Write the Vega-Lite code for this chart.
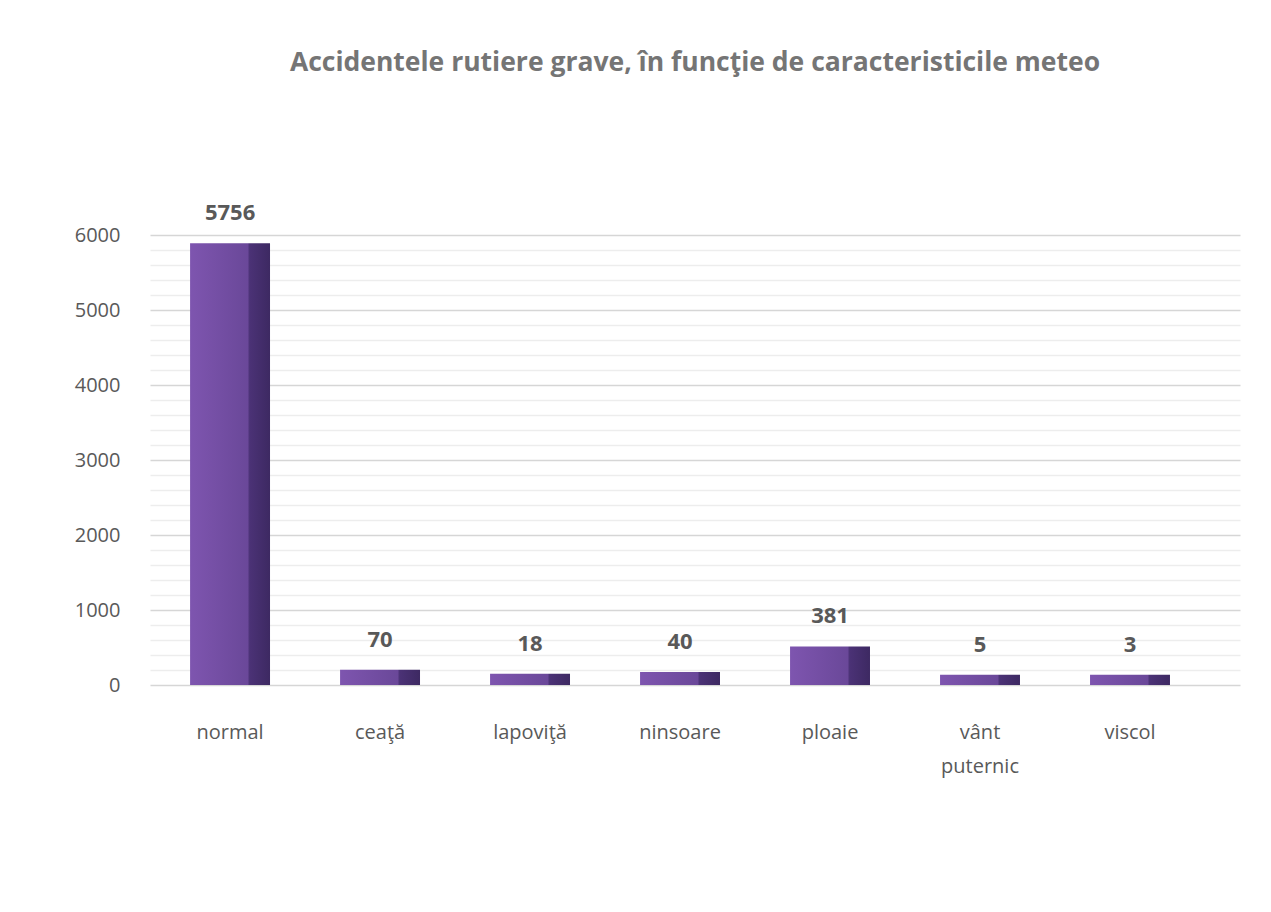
{
  "$schema": "https://vega.github.io/schema/vega-lite/v6.json",
  "autosize": "none",
  "width": 1090,
  "height": 450,
  "padding": {"left": 150, "top": 235, "right": 31, "bottom": 227},
  "background": "white",
  "title": {
    "text": "Accidentele rutiere grave, în funcţie de caracteristicile meteo",
    "font": "Open Sans",
    "fontSize": 26.5,
    "fontWeight": "bold",
    "color": "#757575",
    "anchor": "middle",
    "offset": 126
  },
  "data": {
    "values": [
      {"cond": "normal", "n": 5756},
      {"cond": "ceaţă", "n": 70},
      {"cond": "lapoviţă", "n": 18},
      {"cond": "ninsoare", "n": 40},
      {"cond": "ploaie", "n": 381},
      {"cond": "vânt puternic", "n": 5},
      {"cond": "viscol", "n": 3}
    ]
  },
  "config": {
    "view": {"stroke": null},
    "font": "Open Sans"
  },
  "encoding": {
    "x": {
      "field": "cond",
      "type": "nominal",
      "sort": null,
      "scale": {"paddingInner": 0.467, "paddingOuter": 0.367, "align": 0.364},
      "axis": {
        "title": null,
        "labelAngle": 0,
        "domain": false,
        "ticks": false,
        "labelPadding": 37,
        "labelFontSize": 20,
        "labelColor": "#595959",
        "labelFont": "Open Sans",
        "labelLineHeight": 34,
        "labelExpr": "datum.label == 'vânt puternic' ? ['vânt', 'puternic'] : datum.label"
      }
    },
    "y": {
      "field": "n",
      "type": "quantitative",
      "stack": null,
      "scale": {"domain": [0, 6000], "nice": false},
      "axis": {
        "title": null,
        "values": [0,200,400,600,800,1000,1200,1400,1600,1800,2000,2200,2400,2600,2800,3000,3200,3400,3600,3800,4000,4200,4400,4600,4800,5000,5200,5400,5600,5800,6000],
        "labelExpr": "datum.value % 1000 == 0 ? datum.label : ''",
        "format": "d",
        "domain": false,
        "ticks": false,
        "labelPadding": 30,
        "labelFontSize": 20,
        "labelColor": "#595959",
        "labelFont": "Open Sans",
        "gridColor": {"condition": {"test": "datum.value % 1000 == 0", "value": "#D6D6D6"}, "value": "#EDEDED"},
        "gridWidth": 1.5
      }
    }
  },
  "layer": [
    {
      "mark": {
        "type": "bar",
        "yOffset": -10,
        "y2Offset": 0,
        "color": {
          "gradient": "linear",
          "x1": 0, "x2": 1, "y1": 0, "y2": 0,
          "stops": [
            {"offset": 0, "color": "#7E55AF"},
            {"offset": 0.72, "color": "#6A4899"},
            {"offset": 0.745, "color": "#4B3276"},
            {"offset": 1, "color": "#3D2962"}
          ]
        }
      },
      "encoding": {"y2": {"datum": 0}}
    },
    {
      "mark": {
        "type": "text",
        "baseline": "bottom",
        "dy": -28,
        "fontSize": 22,
        "fontWeight": "bold",
        "color": "#595959",
        "font": "Open Sans"
      },
      "encoding": {"text": {"field": "n", "type": "quantitative", "format": "d"}}
    }
  ]
}
